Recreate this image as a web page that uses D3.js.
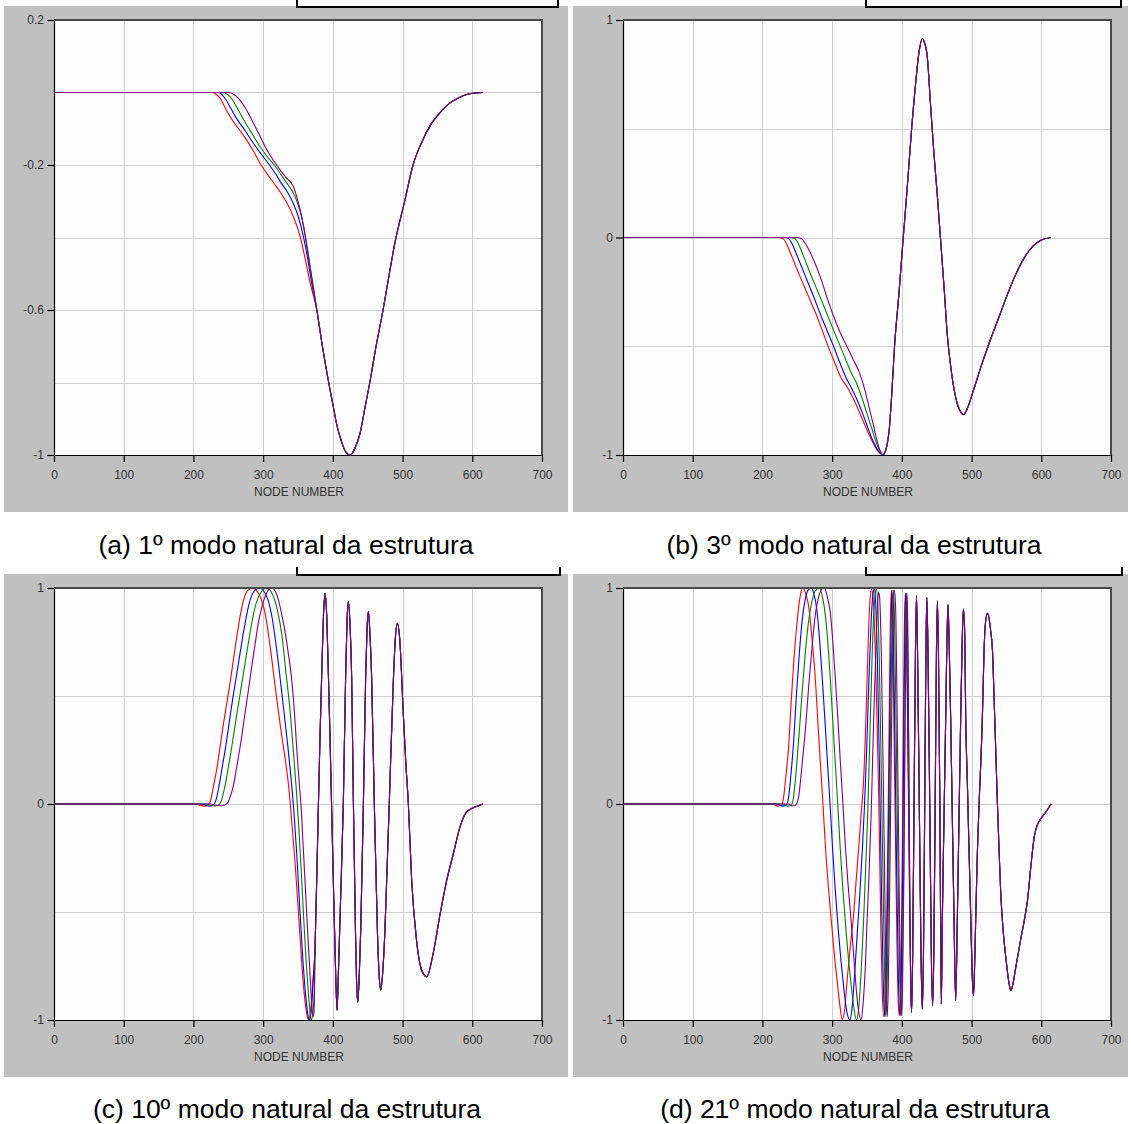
<!DOCTYPE html>
<html>
<head>
<meta charset="utf-8">
<script src="https://cdn.jsdelivr.net/npm/d3@7"></script>
<style>
  body { margin: 0; background: #ffffff; }
  svg text { font-family: "Liberation Sans", Arial, sans-serif; }
</style>
</head>
<body>
<svg id="fig" width="1131" height="1124"></svg>
<script>
// ---------------------------------------------------------------
// Mode shapes: [node number, normalised displacement]
// Each mode has four runs (red, blue, green, purple) that differ only
// in their leading part; from a certain node on they share one path.
// ---------------------------------------------------------------
const NODE_TICKS = [0, 100, 200, 300, 400, 500, 600, 700];
const SERIES_COLORS = ["#ff0000", "#0000ff", "#008000", "#800080"];

// ----- 1st mode -----
const mode1Red = [[0,0],[226,0],[232,-0.004],[238,-0.015],[245,-0.04],[252,-0.065],[264,-0.098],[276,-0.13],[287,-0.165],[297,-0.2],[306,-0.225],[315,-0.249],[325,-0.276],[334,-0.304],[343,-0.341],[353,-0.396],[360,-0.456],[368,-0.53]];
const mode1Blue = [[0,0],[234,0],[240,-0.004],[246,-0.018],[254,-0.045],[262,-0.072],[274,-0.105],[286,-0.14],[298,-0.172],[309,-0.2],[318,-0.225],[326,-0.25],[335,-0.275],[343,-0.305],[350,-0.34],[358,-0.4],[364,-0.46],[370,-0.53]];
const mode1Green = [[0,0],[242,0],[248,-0.004],[256,-0.02],[264,-0.047],[272,-0.075],[283,-0.11],[294,-0.145],[305,-0.175],[316,-0.2],[325,-0.225],[334,-0.25],[341,-0.27],[347,-0.293],[354,-0.335],[360,-0.39],[366,-0.46],[371,-0.53]];
const mode1Purple = [[0,0],[250,0],[257,-0.004],[264,-0.015],[272,-0.035],[279,-0.058],[286,-0.084],[296,-0.122],[305,-0.157],[314,-0.185],[323,-0.21],[333,-0.235],[343,-0.258],[350,-0.3],[358,-0.369],[365,-0.456],[372,-0.535]];
const mode1Shared = [[377,-0.6],[385,-0.7],[394,-0.8],[400,-0.86],[406,-0.92],[412,-0.96],[418,-0.99],[425,-1.0],[432,-0.98],[439,-0.94],[446,-0.87],[453,-0.8],[462,-0.7],[472,-0.6],[481,-0.5],[489,-0.415],[503,-0.3],[515,-0.2],[528,-0.135],[540,-0.09],[554,-0.055],[567,-0.03],[580,-0.015],[593,-0.005],[605,-0.001],[615,0]];

// ----- 3rd mode -----
const mode3Red = [[0,0],[224,0],[229,-0.004],[234,-0.025],[240,-0.07],[252,-0.165],[264,-0.255],[276,-0.345],[285,-0.42],[293,-0.49],[303,-0.57],[312,-0.64],[322,-0.69],[331,-0.745],[340,-0.81],[350,-0.885],[358,-0.94],[364,-0.975],[369,-0.993],[373,-1.0]];
const mode3Blue = [[0,0],[232,0],[237,-0.004],[242,-0.025],[248,-0.07],[260,-0.165],[272,-0.26],[284,-0.36],[293,-0.43],[302,-0.5],[311,-0.575],[320,-0.645],[329,-0.7],[337,-0.755],[345,-0.82],[353,-0.89],[360,-0.945],[366,-0.98],[370,-0.995],[373,-1.0]];
const mode3Green = [[0,0],[241,0],[246,-0.004],[251,-0.025],[257,-0.07],[268,-0.16],[279,-0.245],[290,-0.33],[300,-0.41],[309,-0.48],[318,-0.55],[327,-0.62],[335,-0.67],[342,-0.73],[350,-0.81],[357,-0.88],[363,-0.94],[368,-0.98],[373,-1.0]];
const mode3Purple = [[0,0],[250,0],[256,-0.005],[262,-0.03],[268,-0.065],[275,-0.115],[284,-0.19],[293,-0.28],[303,-0.37],[312,-0.44],[321,-0.5],[330,-0.56],[339,-0.62],[346,-0.69],[353,-0.78],[359,-0.86],[364,-0.93],[369,-0.98],[373,-1.0]];
const mode3Shared = [[376,-0.985],[379,-0.95],[382,-0.88],[385.5,-0.72],[389.5,-0.5],[396,-0.25],[402,0.0],[407,0.2],[410.5,0.35],[414,0.5],[419.5,0.7],[424.5,0.85],[429.5,0.915],[432,0.9],[436.5,0.83],[441,0.617],[446,0.387],[451,0.188],[456,-0.03],[461,-0.25],[465,-0.44],[470,-0.59],[475,-0.7],[480,-0.77],[485,-0.805],[488,-0.815],[492,-0.8],[497,-0.76],[503,-0.7],[515,-0.58],[527,-0.47],[540,-0.36],[552,-0.257],[564,-0.165],[575,-0.096],[588,-0.04],[600,-0.012],[614,0]];

// ----- 10th mode -----
const mode10Red = [[0,0],[205,0],[210,-0.006],[216,-0.01],[220,-0.005],[224,0.01],[228.6,0.08],[233.4,0.16],[238,0.26],[243,0.37],[248,0.47],[252.5,0.56],[257,0.66],[262,0.77],[267,0.87],[271.6,0.94],[277,0.985],[284,1.0],[290,0.99],[297,0.95],[303,0.88],[310,0.73],[319,0.5],[326,0.33],[332,0.2],[337,0.07],[341,-0.08],[346,-0.28],[351,-0.52],[355,-0.72],[359,-0.88],[362,-0.96],[365,-1.0],[368,-0.96],[371,-0.84]];
const mode10Blue = [[0,0],[212,0],[218,-0.007],[224,-0.01],[229,-0.004],[232.5,0.02],[236.5,0.08],[241,0.165],[246,0.26],[251,0.37],[256,0.48],[261,0.58],[266,0.68],[271,0.78],[276,0.87],[281,0.94],[287,0.985],[295,1.0],[301,0.985],[307,0.945],[313,0.86],[320,0.7],[328,0.48],[335,0.28],[340,0.12],[344,-0.03],[348,-0.22],[352,-0.45],[356,-0.67],[360,-0.85],[363.5,-0.96],[366.5,-1.0],[369.5,-0.94],[372,-0.8]];
const mode10Green = [[0,0],[218,0],[225,-0.007],[232,-0.009],[237,-0.003],[240.5,0.02],[245,0.08],[250,0.17],[255,0.265],[260,0.37],[265,0.47],[270,0.57],[275,0.67],[280,0.77],[285,0.86],[290,0.93],[297,0.98],[305,1.0],[311,0.985],[316,0.95],[321,0.89],[327,0.78],[333,0.6],[339,0.42],[343.5,0.24],[347.5,0.07],[351,-0.1],[354.5,-0.3],[358,-0.52],[361.5,-0.72],[365,-0.88],[367.5,-0.97],[369,-1.0],[371.5,-0.96],[373.5,-0.85]];
const mode10Purple = [[0,0],[225,0],[232,-0.006],[240,-0.008],[246,-0.004],[250,0.01],[253,0.035],[257,0.08],[262,0.17],[267,0.265],[274,0.42],[279,0.53],[283.6,0.636],[288,0.73],[293,0.837],[298,0.91],[302.7,0.96],[308,0.992],[313,1.0],[318,0.98],[322,0.944],[326.5,0.88],[331,0.806],[336,0.7],[341,0.574],[345,0.42],[348,0.265],[351.5,0.11],[355,-0.043],[357.5,-0.2],[360,-0.352],[362.5,-0.51],[365,-0.66],[367.5,-0.8],[369.5,-0.92],[371.5,-0.985],[373,-0.96]];
const mode10Shared = [[374.5,-0.66],[377,-0.33],[379,-0.04],[381.5,0.3],[384,0.6],[386.5,0.87],[388.8,0.975],[391.2,0.87],[393.6,0.6],[396,0.3],[398.4,-0.04],[401,-0.4],[403.5,-0.72],[406,-0.955],[408.5,-0.72],[411,-0.45],[415,0.0],[418.5,0.62],[420.5,0.86],[422.3,0.937],[424.5,0.84],[427,0.58],[429.5,0.0],[432.5,-0.6],[434,-0.82],[435.7,-0.917],[438,-0.78],[440,-0.58],[443.8,0.0],[447,0.58],[449,0.81],[451,0.891],[453,0.8],[455.5,0.6],[459.5,0.0],[464,-0.6],[466.5,-0.8],[468.7,-0.861],[471.5,-0.78],[474.5,-0.6],[477.2,-0.352],[480.9,0.0],[482,0.11],[486.8,0.574],[489.5,0.76],[492.6,0.836],[496,0.76],[501,0.42],[504.5,0.2],[508.3,0.0],[513,-0.35],[520,-0.63],[527.5,-0.77],[534.7,-0.8],[544,-0.69],[554,-0.506],[563.4,-0.352],[573,-0.228],[582.5,-0.105],[590,-0.045],[597,-0.025],[606,-0.012],[615,0]];

// ----- 21st mode -----
const mode21Red = [[0,0],[215,0],[222,-0.01],[228,-0.005],[230.5,0.034],[234,0.14],[237.6,0.265],[241,0.46],[244.8,0.651],[248.5,0.8],[252,0.914],[255,0.975],[258.3,1.0],[262,0.975],[266.4,0.914],[271,0.77],[276,0.574],[279.5,0.38],[283.2,0.188],[287,-0.01],[290.4,-0.198],[295,-0.4],[300,-0.583],[303.5,-0.71],[307.1,-0.815],[311,-0.93],[314.5,-0.997],[318,-0.95],[321.5,-0.815],[326,-0.66],[331,-0.506],[334.5,-0.35],[338.2,-0.198],[341.5,-0.05],[345,0.1],[349,0.45],[352,0.78],[354.5,0.95],[356.5,0.995],[358.5,0.96],[361,0.8],[364,0.45],[367,0.0],[370,-0.6],[372,-0.88],[374,-0.985],[376,-0.88],[378,-0.6],[380,-0.15],[382,0.45],[383.5,0.85],[385,0.99],[386.5,0.86],[388.5,0.4],[391,-0.2],[393,-0.65],[395,-0.93],[396.5,-0.98],[398,-0.88],[400,-0.45],[402,0.3],[403.5,0.8],[405,0.975],[406.5,0.82],[408.5,0.3],[410.5,-0.3],[412.5,-0.8]];
const mode21Blue = [[0,0],[222,0],[228,-0.01],[234,-0.006],[237.5,0.03],[241,0.14],[245,0.3],[249,0.52],[253,0.7],[257,0.85],[261,0.94],[265.5,0.99],[270.2,1.0],[274,0.97],[278,0.9],[282,0.76],[286,0.574],[290,0.37],[293.5,0.18],[297,0.0],[300.5,-0.2],[304.5,-0.4],[309,-0.59],[312.5,-0.72],[316,-0.83],[320,-0.94],[325.3,-1.0],[329,-0.93],[332,-0.8],[336,-0.6],[340,-0.4],[343.5,-0.2],[346.5,0.0],[349.5,0.25],[353,0.6],[356,0.85],[358.5,0.97],[360.5,0.995],[362.5,0.93],[365,0.65],[368,0.15],[371,-0.45],[373.5,-0.85],[375.5,-0.985],[377.5,-0.85],[379.5,-0.45],[382,0.2],[384.5,0.8],[386,0.99],[387.5,0.85],[390,0.3],[392.5,-0.3],[395,-0.8],[397.5,-0.98],[399,-0.85],[401,-0.35],[403,0.4],[404.5,0.85],[405.5,0.975],[407,0.78],[409,0.25],[411,-0.35],[412.6,-0.82]];
const mode21Green = [[0,0],[230,0],[236,-0.01],[241,-0.007],[244.5,0.03],[248,0.14],[252.5,0.32],[257,0.52],[261.5,0.7],[266,0.84],[270.5,0.93],[275.5,0.985],[281.7,1.0],[286,0.96],[290,0.88],[294,0.74],[297.5,0.574],[301,0.38],[304.5,0.19],[308,0.0],[311.5,-0.2],[315.5,-0.4],[320,-0.59],[323.5,-0.72],[327,-0.83],[331,-0.94],[335,-1.0],[338.5,-0.93],[341.5,-0.78],[345,-0.55],[348,-0.3],[351,-0.05],[354,0.3],[357,0.65],[360,0.9],[362,0.98],[363.5,0.995],[365.5,0.92],[368,0.6],[371,0.05],[374,-0.55],[376,-0.9],[377.2,-0.985],[378.8,-0.85],[381,-0.4],[383.5,0.3],[386,0.85],[388,0.99],[389.5,0.85],[392,0.3],[394.5,-0.3],[397,-0.8],[399,-0.98],[400.5,-0.85],[402.5,-0.35],[404.5,0.45],[405.8,0.88],[406.8,0.975],[408.2,0.78],[409.8,0.25],[411.3,-0.4],[412.7,-0.84]];
const mode21Purple = [[0,0],[238,0],[242,-0.008],[246,-0.008],[249,0.0],[252,0.034],[256.5,0.17],[261.6,0.343],[266.5,0.55],[271.2,0.728],[276,0.88],[280.8,0.96],[285,0.995],[289,1.0],[293,0.96],[297.5,0.883],[301,0.75],[304.7,0.574],[308.5,0.38],[311.9,0.188],[315.5,0.0],[319,-0.198],[322.5,-0.36],[326.3,-0.506],[330,-0.66],[333.5,-0.815],[337.5,-0.95],[341.6,-1.0],[344.5,-0.92],[347.8,-0.738],[350,-0.55],[352.6,-0.352],[356,-0.043],[359.8,0.42],[363.7,0.806],[366.5,0.98],[368,0.96],[370.5,0.7],[373,0.2],[375.5,-0.4],[377.5,-0.85],[379,-0.985],[380.5,-0.85],[382.5,-0.4],[385,0.3],[387.5,0.85],[389.5,0.99],[391.5,0.85],[393.5,0.35],[396,-0.35],[398,-0.85],[399.5,-0.98],[401,-0.85],[403,-0.3],[405,0.5],[406.5,0.88],[407.5,0.975],[408.8,0.75],[410,0.2],[411.5,-0.45],[412.8,-0.85]];
const mode21Shared = [[414,-0.965],[415.5,-0.7],[417.5,0.0],[419.5,0.7],[421,0.965],[422.5,0.7],[425,0.0],[427.5,-0.7],[429.3,-0.949],[431,-0.7],[432.8,0.0],[434.5,0.7],[435.8,0.957],[437.5,0.7],[440,0.0],[442.3,-0.7],[444,-0.934],[445.8,-0.7],[447.8,0.0],[449.6,0.7],[451,0.941],[452.5,0.7],[454.5,0.0],[455.5,-0.5],[456.6,-0.926],[458,-0.55],[460.5,-0.06],[462.9,0.4],[464.6,0.75],[466.2,0.923],[467.8,0.75],[470,0.4],[472.4,-0.06],[474.8,-0.525],[477.2,-0.91],[479.6,-0.525],[482,-0.06],[484.4,0.4],[486.8,0.787],[488.3,0.903],[490.2,0.787],[491.6,0.4],[494,0.093],[496.4,-0.216],[498.8,-0.525],[501,-0.8],[502.6,-0.887],[503.6,-0.83],[506,-0.525],[508.4,-0.216],[510.8,0.0],[515.5,0.401],[517.9,0.71],[520,0.84],[522.8,0.883],[525,0.86],[527.5,0.8],[530,0.71],[532.4,0.48],[534.7,0.247],[537.1,0.0],[539.5,-0.216],[541.9,-0.417],[545.3,-0.586],[549.1,-0.71],[553.9,-0.833],[556.3,-0.864],[559.5,-0.83],[563.4,-0.756],[570.6,-0.624],[575,-0.55],[580.3,-0.444],[585,-0.29],[590,-0.15],[594,-0.1],[600,-0.065],[607,-0.035],[614,0]];

// ----- axis ticks / grid values -----
const Y_TICKS_MODE1 = [0.2, -0.2, -0.6, -1];
const Y_GRID_MODE1 = [0, -0.2, -0.4, -0.6, -0.8];
const Y_TICKS_UNIT = [1, 0, -1];
const Y_GRID_UNIT = [0.5, 0, -0.5];

// ----- captions -----
const CAPTIONS = [
  "(a) 1º modo natural da estrutura",
  "(b) 3º modo natural da estrutura",
  "(c) 10º modo natural da estrutura",
  "(d) 21º modo natural da estrutura"
];

// ---------------------------------------------------------------
// Layout of the four sub-figures
// ---------------------------------------------------------------
const panels = [
  { frame: {x: 4, y: 6, w: 564, h: 506}, plot: {l: 54, t: 20, r: 542, b: 455},
    yDomain: [-1, 0.2], yTicks: Y_TICKS_MODE1, yGrid: Y_GRID_MODE1,
    stub: {x0: 297, x1: 558, y0: -4, y1: 7}, caption: {x: 286, y: 554, text: CAPTIONS[0]},
    leads: [mode1Red, mode1Blue, mode1Green, mode1Purple], shared: mode1Shared },
  { frame: {x: 573, y: 6, w: 555, h: 506}, plot: {l: 623, t: 20, r: 1111, b: 455},
    yDomain: [-1, 1], yTicks: Y_TICKS_UNIT, yGrid: Y_GRID_UNIT,
    stub: {x0: 866, x1: 1121, y0: -4, y1: 7}, caption: {x: 854, y: 554, text: CAPTIONS[1]},
    leads: [mode3Red, mode3Blue, mode3Green, mode3Purple], shared: mode3Shared },
  { frame: {x: 4, y: 574, w: 564, h: 503}, plot: {l: 54, t: 588, r: 542, b: 1020},
    yDomain: [-1, 1], yTicks: Y_TICKS_UNIT, yGrid: Y_GRID_UNIT,
    stub: {x0: 297, x1: 560, y0: 567, y1: 575}, caption: {x: 287, y: 1118, text: CAPTIONS[2]},
    leads: [mode10Red, mode10Blue, mode10Green, mode10Purple], shared: mode10Shared },
  { frame: {x: 573, y: 574, w: 555, h: 503}, plot: {l: 623, t: 588, r: 1111, b: 1020},
    yDomain: [-1, 1], yTicks: Y_TICKS_UNIT, yGrid: Y_GRID_UNIT,
    stub: {x0: 866, x1: 1122, y0: 567, y1: 575}, caption: {x: 855, y: 1118, text: CAPTIONS[3]},
    leads: [mode21Red, mode21Blue, mode21Green, mode21Purple], shared: mode21Shared }
];

const svg = d3.select("#fig");

function drawPanel(p) {
  const g = svg.append("g");

  // grey window background
  g.append("rect")
    .attr("x", p.frame.x).attr("y", p.frame.y)
    .attr("width", p.frame.w).attr("height", p.frame.h)
    .attr("fill", "#c0c0c0");

  // partially visible legend box above the window
  g.append("path")
    .attr("d", `M${p.stub.x0},${p.stub.y0}V${p.stub.y1}H${p.stub.x1}V${p.stub.y0}`)
    .attr("fill", "#ffffff").attr("stroke", "#000").attr("stroke-width", 2);

  const x = d3.scaleLinear().domain([0, 700]).range([p.plot.l, p.plot.r]);
  const y = d3.scaleLinear().domain(p.yDomain).range([p.plot.b, p.plot.t]);

  // plotting area
  g.append("rect")
    .attr("x", p.plot.l).attr("y", p.plot.t)
    .attr("width", p.plot.r - p.plot.l).attr("height", p.plot.b - p.plot.t)
    .attr("fill", "#fdfdfd");

  // grid
  const grid = g.append("g").attr("stroke", "#cfcfcf").attr("stroke-width", 1);
  grid.selectAll("line.vx").data(NODE_TICKS.slice(1, -1)).join("line")
    .attr("x1", d => Math.round(x(d)) + 0.5).attr("x2", d => Math.round(x(d)) + 0.5)
    .attr("y1", p.plot.t).attr("y2", p.plot.b);
  grid.selectAll("line.hy").data(p.yGrid).join("line")
    .attr("y1", d => Math.round(y(d)) + 0.5).attr("y2", d => Math.round(y(d)) + 0.5)
    .attr("x1", p.plot.l).attr("x2", p.plot.r);

  // mode-shape curves, one per run
  const line = d3.line()
    .x(d => x(d[0]))
    .y(d => y(d[1]))
    .curve(d3.curveMonotoneX);
  p.leads.forEach((lead, i) => {
    g.append("path")
      .datum(lead.concat(p.shared))
      .attr("d", line)
      .attr("fill", "none")
      .attr("stroke", SERIES_COLORS[i])
      .attr("stroke-width", 1.1);
  });

  // top and right edges of the plotting frame
  g.append("path")
    .attr("d", `M${p.plot.l},${p.plot.t}H${p.plot.r}V${p.plot.b}`)
    .attr("fill", "none").attr("stroke", "#4a4a4a").attr("stroke-width", 2);

  // axes
  const yAxis = d3.axisLeft(y)
    .tickValues(p.yTicks)
    .tickSize(7).tickSizeOuter(0).tickPadding(3)
    .tickFormat(d => String(d));
  const xAxis = d3.axisBottom(x)
    .tickValues(NODE_TICKS)
    .tickSize(7).tickSizeOuter(0).tickPadding(8)
    .tickFormat(d => String(d));

  const ya = g.append("g").attr("transform", `translate(${p.plot.l},0)`).call(yAxis);
  const xa = g.append("g").attr("transform", `translate(0,${p.plot.b})`).call(xAxis);
  [ya, xa].forEach(a => {
    a.selectAll("path.domain").attr("stroke", "#000").attr("stroke-width", 1.2);
    a.selectAll(".tick line").attr("stroke", "#000").attr("stroke-width", 1.2);
    a.selectAll(".tick text")
      .attr("font-size", 12)
      .attr("font-family", "'Liberation Sans', Arial, sans-serif")
      .attr("fill", "#333");
  });

  g.append("text")
    .attr("x", (p.plot.l + p.plot.r) / 2 + 1)
    .attr("y", p.plot.b + 41)
    .attr("text-anchor", "middle")
    .attr("font-size", 12)
    .attr("fill", "#333")
    .text("NODE NUMBER");

  // sub-figure caption
  g.append("text")
    .attr("x", p.caption.x).attr("y", p.caption.y)
    .attr("text-anchor", "middle")
    .attr("font-size", 26.5)
    .attr("fill", "#000")
    .text(p.caption.text);
}

panels.forEach(drawPanel);
</script>
</body>
</html>
